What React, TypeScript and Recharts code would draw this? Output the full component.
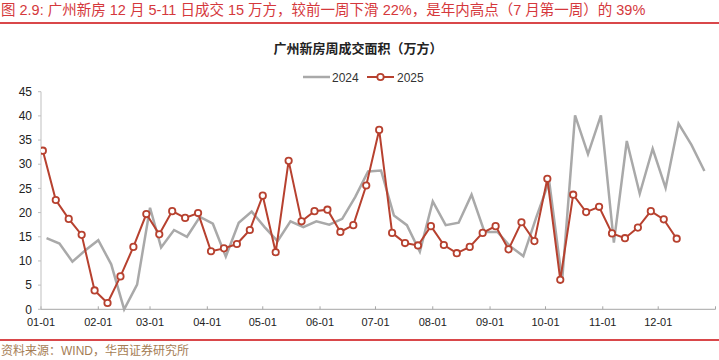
import React from "react";
import { LineChart, Line, XAxis, YAxis, Legend } from "recharts";

// ---- data (weekly values, 万方) ----
const start2025 = "2025-01-02"; // weekly, Thursdays
const start2024 = "2024-01-04"; // weekly, Thursdays
const values2025 = [
  32.8, 22.6, 18.7, 15.4, 3.9, 1.3, 6.8, 12.9, 19.7,
  15.5, 20.3, 18.9, 19.9, 12.0, 12.6, 13.5, 16.4,
  23.5, 11.8, 30.7, 18.2, 20.3, 20.6, 16.0, 17.4, 25.6,
  37.1, 15.8, 13.7, 13.2, 17.2, 13.3, 11.6, 12.9,
  15.8, 17.2, 12.4, 18.0, 14.1, 27.0, 6.1, 23.7, 20.1,
  21.2, 15.7, 14.7, 16.9, 20.3, 18.6, 14.6,
];
const values2024 = [
  14.7, 13.6, 9.85, 12.2, 14.3, 9.3, 0, 5.1, 21.0,
  12.8, 16.4, 15.0, 19.1, 17.7, 10.9, 17.9, 20.2,
  17.0, 14.1, 18.2, 17.0, 18.2, 17.5, 18.7, 23.2, 28.5, 28.7,
  19.4, 17.4, 11.9, 22.3, 17.4, 17.9, 23.7,
  16.0, 16.0, 13.0, 11.0, 19.0, 26.5, 5.9, 40.1, 32.1, 40.1, 13.8,
  34.8, 23.9, 33.2, 25.1, 38.4, 34.0, 28.6,
];
const monthTickLabels = ["01-01", "02-01", "03-01", "04-01", "05-01", "06-01", "07-01", "08-01", "09-01", "10-01", "11-01", "12-01"];
const yTicks = [0, 5, 10, 15, 20, 25, 30, 35, 40, 45];
const seriesNames = ["2024", "2025"];
const titleText = "图 2.9:  广州新房 12 月 5-11 日成交 15 万方，较前一周下滑 22%，是年内高点（7 月第一周）的 39%";
const chartTitle = "广州新房周成交面积（万方）";
const sourceText = "资料来源：WIND，华西证券研究所";

// ---- helpers: map a date to its month-day position on a common year axis ----
const DAY = 86400000;
const base = Date.UTC(2025, 0, 1);
function mdIndex(m: number, d: number) {
  return Math.round((Date.UTC(2025, m, d) - base) / DAY);
}
function weeklySeries(startIso: string, vals: number[]) {
  const [y, m, d] = startIso.split("-").map(Number);
  return vals.map((v, i) => {
    const dt = new Date(Date.UTC(y, m - 1, d + 7 * i));
    return { x: mdIndex(dt.getUTCMonth(), dt.getUTCDate()), v };
  });
}
const data2024 = weeklySeries(start2024, values2024);
const data2025 = weeklySeries(start2025, values2025);
const monthTicks = monthTickLabels.map((l) => {
  const [m, d] = l.split("-").map(Number);
  return mdIndex(m - 1, d);
});
const yearEnd = mdIndex(11, 31) + 1;
const xTicks = [...monthTicks, yearEnd];
const labelFor = (v: number) => {
  const i = monthTicks.indexOf(v);
  return i >= 0 ? monthTickLabels[i] : "";
};

const RED = "#b7412f";
const GRAY = "#a9a9a9";
const FONT = '"Liberation Sans", Arial, "Noto Sans CJK SC", sans-serif';

function LegendContent() {
  return (
    <svg width={130} height={16} style={{ overflow: "visible" }}>
      <line x1={0} y1={8} x2={27} y2={8} stroke={GRAY} strokeWidth={2.5} />
      <text x={29} y={12.5} fontSize={12} fill="#333" fontFamily={FONT}>{seriesNames[0]}</text>
      <line x1={64} y1={8} x2={91} y2={8} stroke={RED} strokeWidth={2} />
      <circle cx={77.5} cy={8} r={3.2} fill="#fff" stroke={RED} strokeWidth={1.8} />
      <text x={94} y={12.5} fontSize={12} fill="#333" fontFamily={FONT}>{seriesNames[1]}</text>
    </svg>
  );
}

export default function App() {
  return (
    <div style={{ position: "absolute", left: 0, top: 0, width: 719, height: 360, background: "#fff", fontFamily: FONT, overflow: "hidden" }}>
      <div style={{ position: "absolute", left: 1, top: 1, fontSize: 14.5, color: "#d5383c", whiteSpace: "nowrap", lineHeight: "18px" }}>{titleText}</div>
      <div style={{ position: "absolute", left: 0, top: 22, width: 719, height: 2, background: "#d9474a" }} />
      <div style={{ position: "absolute", left: 0, width: 716, top: 40, textAlign: "center", fontSize: 13, fontWeight: 700, color: "#222", lineHeight: "18px" }}>{chartTitle}</div>
      <div style={{ position: "absolute", left: 0, top: 339, width: 719, height: 2, background: "#d9474a" }} />
      <div style={{ position: "absolute", left: 1, top: 344, fontSize: 12, color: "#a57d55", whiteSpace: "nowrap", lineHeight: "15px" }}>{sourceText}</div>
      <div style={{ position: "absolute", left: 0, top: 0 }}>
        <LineChart width={719} height={360} margin={{ top: 71.7, right: 3.5, bottom: 20.7, left: 0 }}>
          <XAxis
            type="number"
            dataKey="x"
            domain={[0, yearEnd]}
            ticks={xTicks}
            tickFormatter={labelFor}
            interval={0}
            height={30}
            axisLine={{ stroke: "#a6a6a6" }}
            tickLine={{ stroke: "#a6a6a6" }}
            tickSize={-3}
            tickMargin={12}
            tick={{ fontSize: 11, fill: "#222", fontFamily: FONT }}
            allowDataOverflow
          />
          <YAxis
            type="number"
            domain={[0, 45]}
            ticks={yTicks}
            interval={0}
            width={41}
            axisLine={{ stroke: "#bfbfbf" }}
            tickLine={{ stroke: "#bfbfbf" }}
            tickSize={3}
            tickMargin={6}
            tick={{ fontSize: 12, fill: "#222", fontFamily: FONT }}
          />
          <Legend
            verticalAlign="top"
            content={() => <LegendContent />}
            wrapperStyle={{ position: "absolute", top: 69, left: 303, width: 130 }}
          />
          <Line data={data2024} dataKey="v" name={seriesNames[0]} stroke={GRAY} strokeWidth={2.5} dot={false} isAnimationActive={false} />
          <Line data={data2025} dataKey="v" name={seriesNames[1]} stroke={RED} strokeWidth={2} dot={{ r: 3.2, fill: "#fff", stroke: RED, strokeWidth: 1.8 }} isAnimationActive={false} />
        </LineChart>
      </div>
    </div>
  );
}
